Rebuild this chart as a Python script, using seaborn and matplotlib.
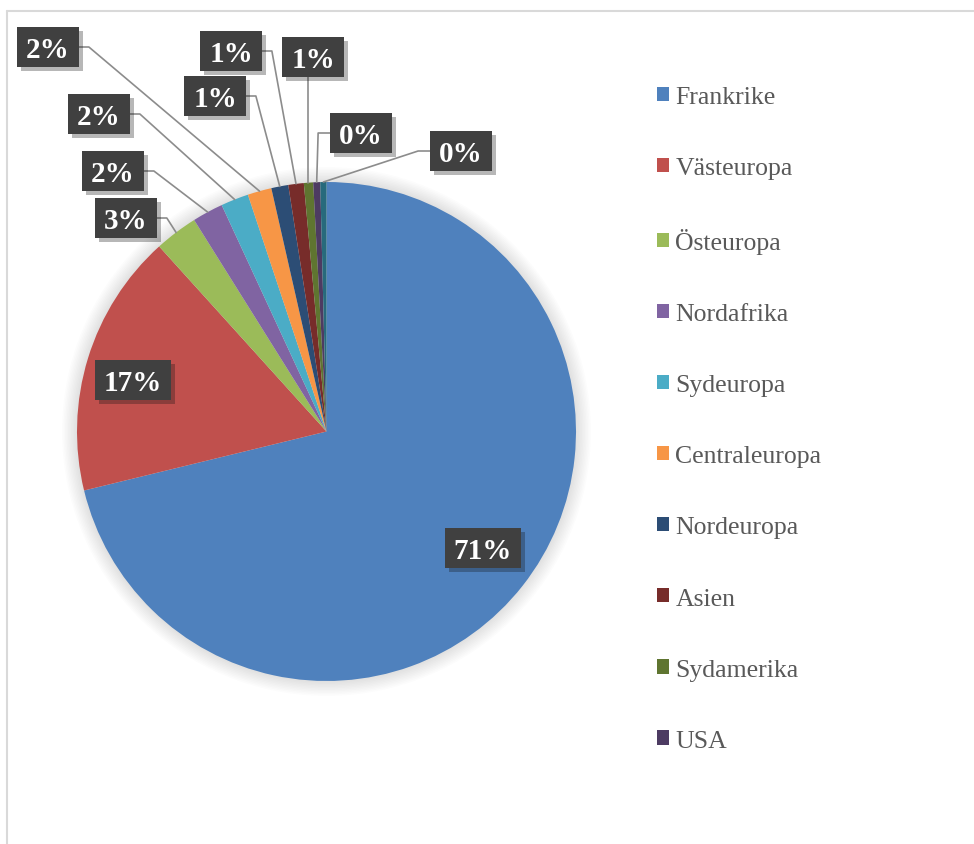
import matplotlib
matplotlib.use("Agg")
import matplotlib.pyplot as plt
import matplotlib.patheffects as pe
from matplotlib.patches import Rectangle, Circle
import numpy as np
import seaborn as sns

# data: share of visitors per region (percent)
regions = ["Frankrike", "Västeuropa", "Östeuropa", "Nordafrika", "Sydeuropa",
           "Centraleuropa", "Nordeuropa", "Asien", "Sydamerika", "USA", "Övriga"]
shares = [71.2, 17.1, 2.8, 2.0, 1.8, 1.55, 1.1, 1.0, 0.6, 0.45, 0.4]
colors = ["#4F81BD", "#C0504D", "#9BBB59", "#8064A2", "#4BACC6", "#F79646",
          "#2C4D75", "#772C2A", "#5F7530", "#4D3B62", "#276A7C"]
n_legend = 10  # the legend only shows the first ten regions

# layout: label box centres (pixels from top-left) and which box side the leader meets
label_pos = [(483, 549), (133, 381), (126, 219), (113, 172), (99, 115), (48, 48),
             (215, 97), (231, 52), (313, 58), (361, 134), (461, 152)]
leader = [None, None, "right", "right", "right", "right", "right", "right",
          "bottom", "left", "left"]

W, H = 974, 845
cx, cy, R = 326.5, H - 432.5, 249.5

sns.set_theme(style="white")
plt.rcParams["font.family"] = ["Liberation Serif", "DejaVu Serif"]

fig = plt.figure(figsize=(W / 100, H / 100), dpi=100)
ax = fig.add_axes([0, 0, 1, 1])

# soft glow behind the pie
for k in range(10):
    ax.add_patch(Circle((cx, cy), R + 1.5 * (k + 1), color="black", alpha=0.012, lw=0, zorder=0))

wedges, _ = ax.pie(shares, colors=sns.color_palette(colors), startangle=90, counterclock=False,
                   center=(cx, cy), radius=R, frame=True, wedgeprops=dict(linewidth=0))
ax.set_xlim(0, W)
ax.set_ylim(0, H)
ax.axis("off")

# chart area border (only top and left are visible)
ax.plot([7, W], [H - 12, H - 12], color="#d9d9d9", lw=1.5, zorder=0)
ax.plot([7, 7], [H - 12, 0], color="#d9d9d9", lw=1.5, zorder=0)

# data labels
fs = 21
fs_px = fs * 100 / 72
fig.canvas.draw()
renderer = fig.canvas.get_renderer()
total = sum(shares)
for i, w in enumerate(wedges):
    xc, yc = label_pos[i][0], H - label_pos[i][1]
    pct = shares[i] / total * 100
    t = ax.text(xc, yc - 0.34 * fs_px, f"{pct:.0f}%", ha="center", va="baseline",
                color="white", fontsize=fs, fontweight="bold", zorder=6)
    tw = t.get_window_extent(renderer).width
    bw, bh = tw + 18, 40
    box = Rectangle((xc - bw / 2, yc - bh / 2), bw, bh, fc="#404040", ec="none", zorder=5)
    box.set_path_effects([pe.withSimplePatchShadow(offset=(3, -3), alpha=0.3), pe.Normal()])
    ax.add_patch(box)

    side = leader[i]
    if side is None:
        continue
    mid = np.deg2rad((w.theta1 + w.theta2) / 2)
    ax_x, ax_y = cx + R * np.cos(mid), cy + R * np.sin(mid)
    if side == "right":
        pts = [(xc + bw / 2, yc), (xc + bw / 2 + 10, yc), (ax_x, ax_y)]
    elif side == "left":
        pts = [(xc - bw / 2, yc), (xc - bw / 2 - 12, yc), (ax_x, ax_y)]
    else:
        pts = [(ax_x, yc - bh / 2), (ax_x, ax_y)]
    xs, ys = zip(*pts)
    ax.plot(xs, ys, color="#8c8c8c", lw=1.2, zorder=4)

leg = ax.legend(wedges[:n_legend], regions[:n_legend], loc="upper left",
                bbox_to_anchor=(657, H - 87), bbox_transform=ax.transData,
                frameon=False, fontsize=18.5, labelcolor="#595959",
                handlelength=0.47, handleheight=0.47, handletextpad=0.25,
                labelspacing=1.91, borderpad=0, borderaxespad=0)

fig.savefig("out.png", dpi=100)
